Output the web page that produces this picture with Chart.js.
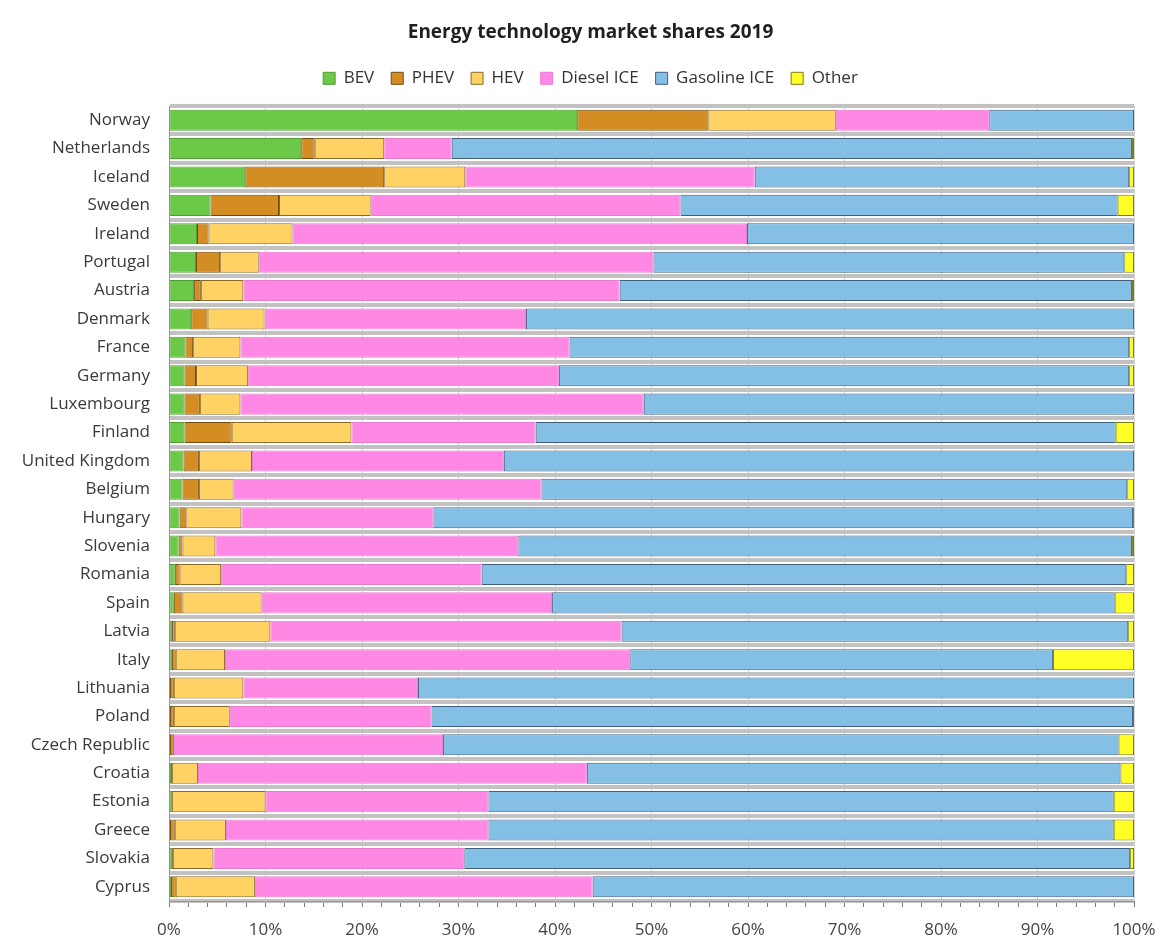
<!DOCTYPE html>
<html>
<head>
<meta charset="utf-8">
<script src="https://cdn.jsdelivr.net/npm/chart.js@4/dist/chart.umd.min.js"></script>
<style>
  html, body { margin: 0; padding: 0; background: #ffffff; }
  #wrap { width: 1169px; height: 940px; position: relative; }
</style>
</head>
<body>
<div id="wrap"><canvas id="c" width="1169" height="940"></canvas></div>
<script>
const categories = ["Norway","Netherlands","Iceland","Sweden","Ireland","Portugal","Austria","Denmark","France","Germany","Luxembourg","Finland","United Kingdom","Belgium","Hungary","Slovenia","Romania","Spain","Latvia","Italy","Lithuania","Poland","Czech Republic","Croatia","Estonia","Greece","Slovakia","Cyprus"];
const bev      = [42.3,13.7, 7.9, 4.3, 2.9, 2.8, 2.6, 2.3, 1.7, 1.6, 1.6, 1.6, 1.5, 1.4, 1.1, 1.0, 0.6, 0.5, 0.3, 0.3, 0.1, 0.1, 0.1, 0.2, 0.3, 0.1, 0.3, 0.2];
const phev     = [13.6, 1.4,14.4, 7.1, 1.2, 2.5, 0.7, 1.7, 0.8, 1.2, 1.6, 4.9, 1.6, 1.7, 0.7, 0.4, 0.5, 0.9, 0.3, 0.4, 0.4, 0.4, 0.4, 0.1, 0.0, 0.5, 0.1, 0.5];
const hev      = [13.2, 7.2, 8.4, 9.5, 8.7, 4.0, 4.4, 5.9, 4.9, 5.4, 4.2,12.4, 5.5, 3.6, 5.7, 3.4, 4.3, 8.2, 9.9, 5.1, 7.2, 5.8, 0.0, 2.7, 9.7, 5.3, 4.2, 8.2];
const diesel   = [15.9, 7.0,30.0,32.1,47.1,40.9,39.0,27.1,34.1,32.2,41.8,19.1,26.1,31.9,19.9,31.4,27.0,30.1,36.4,42.0,18.1,20.9,27.9,40.3,23.1,27.2,26.0,35.0];
const gasoline = [15.0,70.5,38.8,45.3,40.1,48.8,53.1,63.0,58.0,59.1,50.8,60.1,65.3,60.7,72.5,63.6,66.8,58.3,52.5,43.8,74.2,72.7,70.0,55.3,64.8,64.8,69.0,56.1];
const other    = [ 0.0, 0.2, 0.5, 1.7, 0.0, 1.0, 0.2, 0.0, 0.5, 0.5, 0.0, 1.9, 0.0, 0.7, 0.1, 0.2, 0.8, 2.0, 0.6, 8.4, 0.0, 0.1, 1.6, 1.4, 2.1, 2.1, 0.4, 0.0];
const seriesNames = ["BEV","PHEV","HEV","Diesel ICE","Gasoline ICE","Other"];
const chartTitle = "Energy technology market shares 2019";

const fills   = ["#6cc847","#d38d22","#ffd263","#ff88e4","#84c0e6","#ffff26"];
const borders = ["#4f9e33","#6e4a10","#8a6a25","#e77ccf","#3f5f7c","#7a7a10"];
const values  = [bev, phev, hev, diesel, gasoline, other];

const FONT = "'Open Sans', 'Liberation Sans', sans-serif";

new Chart(document.getElementById('c'), {
  type: 'bar',
  data: {
    labels: categories,
    datasets: seriesNames.map((n, i) => ({
      label: n,
      data: values[i],
      backgroundColor: fills[i],
      borderColor: borders[i],
      borderWidth: 1,
      borderSkipped: false,
      categoryPercentage: 1.0,
      barPercentage: 0.74
    }))
  },
  options: {
    indexAxis: 'y',
    responsive: false,
    animation: false,
    devicePixelRatio: 1,
    layout: { padding: { left: 12, right: 0, top: 0, bottom: 2 } },
    plugins: {
      title: {
        display: true,
        text: chartTitle,
        color: '#1f1f1f',
        font: { family: FONT, size: 19, weight: 'bold' },
        padding: { top: 21, bottom: 9 }
      },
      subtitle: {
        display: true,
        text: ' ',
        weight: 500,
        font: { size: 1 },
        padding: { top: 0, bottom: 8 }
      },
      legend: {
        display: true,
        position: 'top',
        labels: {
          color: '#333',
          font: { family: FONT, size: 17 },
          boxWidth: 12,
          boxHeight: 12,
          padding: 17
        }
      },
      tooltip: { enabled: false }
    },
    scales: {
      x: {
        stacked: true,
        min: 0,
        max: 100,
        afterFit: (scale) => { scale.height = 37; },
        ticks: {
          stepSize: 2,
          autoSkip: false,
          maxRotation: 0,
          padding: 13,
          color: '#444',
          font: { family: FONT, size: 17 },
          callback: (v) => (v % 10 === 0 ? v + '%' : '')
        },
        grid: {
          color: (ctx) => (ctx.tick && ctx.tick.value % 10 === 0 ? '#d6d6d6' : 'rgba(0,0,0,0)'),
          tickColor: '#777',
          tickLength: 6,
          lineWidth: 1
        },
        border: { display: true, color: '#999' }
      },
      y: {
        stacked: true,
        afterFit: (scale) => { scale.width = 157; },
        ticks: {
          padding: 19,
          color: '#3a3a3a',
          font: { family: FONT, size: 17 },
          autoSkip: false
        },
        grid: {
          offset: true,
          color: '#c2c2c2',
          lineWidth: 4,
          drawTicks: false
        },
        border: { display: true, color: '#999' }
      },
      yRightSpace: {
        type: 'linear',
        position: 'right',
        display: true,
        afterFit: (scale) => { scale.width = 35; },
        grid: { display: false, drawTicks: false },
        ticks: { display: false },
        border: { display: false }
      }
    }
  }
});
</script>
</body>
</html>
